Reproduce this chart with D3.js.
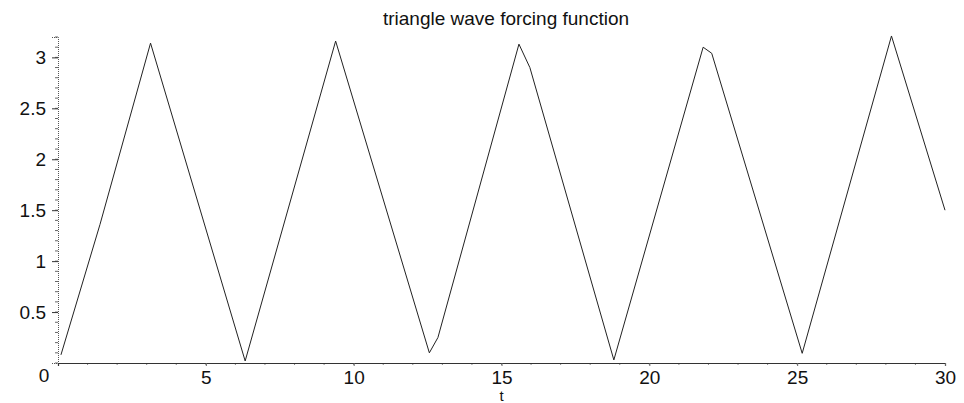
<!DOCTYPE html>
<html>
<head>
<meta charset="utf-8">
<script src="https://cdn.jsdelivr.net/npm/d3@7"></script>
<style>
  body { margin: 0; background: #fff; }
  text { font-family: "Liberation Sans", Arial, sans-serif; fill: #111; }
</style>
</head>
<body>
<script>
// vertices of the traced curve (t, f(t))
var tVals = [0.1, 1.42, 3.13, 6.33, 9.39, 12.56, 12.85, 15.59, 15.96, 18.8, 21.82, 22.11, 25.17, 28.19, 30];
var fVals = [0.08, 1.36, 3.14, 0.02, 3.16, 0.1, 0.25, 3.13, 2.9, 0.03, 3.1, 3.04, 0.095, 3.21, 1.5];

var xTicks = [5, 10, 15, 20, 25, 30];
var yTicks = [0.5, 1, 1.5, 2, 2.5, 3];

var W = 964, H = 403;
var svg = d3.select("body").append("svg")
  .attr("width", W)
  .attr("height", H);

var x = d3.scaleLinear().domain([0, 30]).range([58, 945]);
var y = d3.scaleLinear().domain([0, 3.2]).range([363, 37]);

// title
svg.append("text")
  .attr("x", 506)
  .attr("y", 25)
  .attr("text-anchor", "middle")
  .attr("font-size", "19px")
  .text("triangle wave forcing function");

// y axis, minor ticks first
var yMinor = d3.range(0, 3.21, 0.1);
svg.append("g").selectAll("line")
  .data(yMinor)
  .enter()
  .append("line")
  .attr("x1", x(0) - 3).attr("x2", x(0))
  .attr("y1", function(d) { return y(d); })
  .attr("y2", function(d) { return y(d); })
  .attr("stroke", "#666")
  .attr("stroke-width", 1);

var yAxis = d3.axisLeft(y)
  .tickValues(yTicks)
  .tickSize(6)
  .tickPadding(6)
  .tickFormat(d3.format("~g"));
var gy = svg.append("g")
  .attr("transform", "translate(" + x(0) + ",0)")
  .call(yAxis);
gy.select(".domain").attr("stroke", "#555").attr("stroke-dasharray", "1,1");
gy.selectAll(".tick line").attr("stroke", "#333");
gy.selectAll(".tick text").attr("font-size", "19px").attr("font-family", "Liberation Sans, Arial, sans-serif").attr("fill", "#111");

// x axis
var xMinor = d3.range(1, 30, 1);
svg.append("g").selectAll("line")
  .data(xMinor)
  .enter()
  .append("line")
  .attr("x1", function(d) { return x(d); })
  .attr("x2", function(d) { return x(d); })
  .attr("y1", y(0)).attr("y2", y(0) + 2)
  .attr("stroke", "#888")
  .attr("stroke-width", 1);

var xAxis = d3.axisBottom(x)
  .tickValues(xTicks)
  .tickSize(3)
  .tickPadding(5)
  .tickFormat(d3.format("~g"));
var gx = svg.append("g")
  .attr("transform", "translate(0," + y(0) + ")")
  .call(xAxis);
gx.select(".domain").attr("stroke", "#333").attr("stroke-width", 1.2);
gx.selectAll(".tick line").attr("stroke", "#666");
gx.selectAll(".tick text").attr("font-size", "19px").attr("font-family", "Liberation Sans, Arial, sans-serif").attr("fill", "#111");

// origin label
svg.append("text")
  .attr("x", 44)
  .attr("y", 382)
  .attr("text-anchor", "middle")
  .attr("font-size", "19px")
  .text("0");

// axis label
svg.append("text")
  .attr("x", x(15))
  .attr("y", 401)
  .attr("text-anchor", "middle")
  .attr("font-size", "15px")
  .text("t");

// the curve
var pts = tVals.map(function(t, i) { return [t, fVals[i]]; });
var line = d3.line()
  .x(function(d) { return x(d[0]); })
  .y(function(d) { return y(d[1]); });
svg.append("path")
  .datum(pts)
  .attr("d", line)
  .attr("fill", "none")
  .attr("stroke", "#222")
  .attr("stroke-width", 1);
</script>
</body>
</html>
